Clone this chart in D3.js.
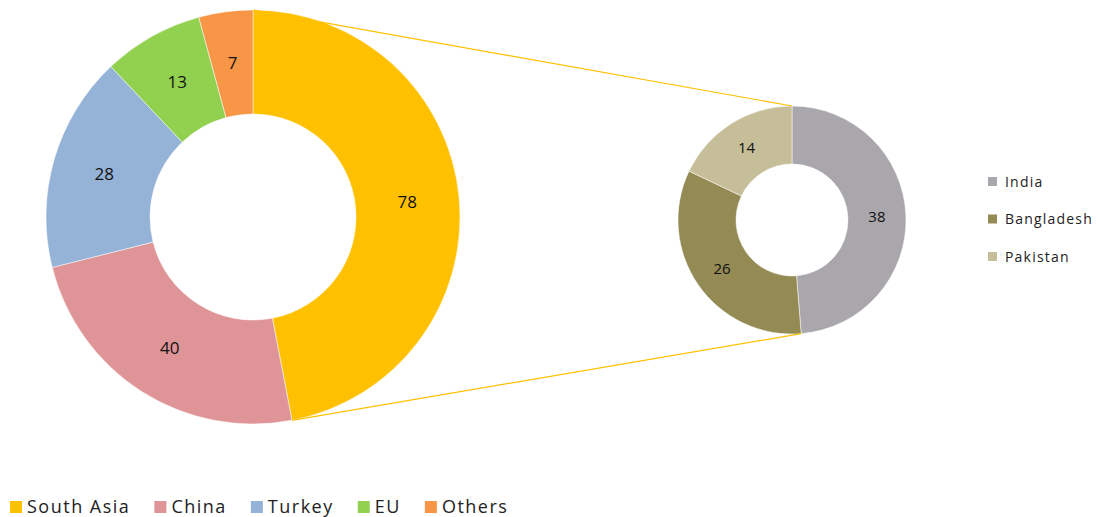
<!DOCTYPE html>
<html>
<head>
<meta charset="utf-8">
<script src="https://cdn.jsdelivr.net/npm/d3@7"></script>
<style>
  body { margin: 0; background: #fff; }
  text { font-family: "Open Sans", sans-serif; }
</style>
</head>
<body>
<svg id="chart" width="1102" height="517"></svg>
<script>
const REGIONS = ["South Asia", "China", "Turkey", "EU", "Others"];
const REGION_VALUES = [78, 40, 28, 13, 7];
const REGION_COLOURS = ["#FFC000", "#DF9598", "#95B3D7", "#92D050", "#F79646"];

const COUNTRIES = ["India", "Bangladesh", "Pakistan"];
const COUNTRY_VALUES = [38, 26, 14];
const COUNTRY_COLOURS = ["#A9A7AB", "#948A54", "#C6BE98"];

const BIG = { cx: 253, cy: 217, outer: 207, inner: 103 };
const SMALL = { cx: 792, cy: 220, outer: 114, inner: 56 };

const svg = d3.select("#chart");

function drawDonut(names, values, colours, geo, fontSize) {
    let pie = d3.pie().sort(null).value(d => d.value);
    let data = pie(names.map((n, i) => ({ name: n, value: values[i], colour: colours[i] })));
    let arc = d3.arc().innerRadius(geo.inner).outerRadius(geo.outer);
    let g = svg.append("g").attr("transform", `translate(${geo.cx},${geo.cy})`);

    g.selectAll("path")
        .data(data)
        .join("path")
        .attr("d", arc)
        .attr("fill", d => d.data.colour)
        .attr("stroke", "#fff")
        .attr("stroke-width", 0.5);

    g.selectAll("text")
        .data(data)
        .join("text")
        .attr("transform", d => `translate(${arc.centroid(d)})`)
        .attr("text-anchor", "middle")
        .attr("dy", "0.35em")
        .attr("font-size", fontSize)
        .attr("fill", "#111")
        .text(d => d.data.value);

    return data;
}

const bigData = drawDonut(REGIONS, REGION_VALUES, REGION_COLOURS, BIG, 17);
const smallData = drawDonut(COUNTRIES, COUNTRY_VALUES, COUNTRY_COLOURS, SMALL, 15);

// connector lines from the South Asia slice to the breakdown donut
function edgePoint(geo, angle) {
    return [geo.cx + geo.outer * Math.sin(angle), geo.cy - geo.outer * Math.cos(angle)];
}
let sa = bigData[0];
let firstCountry = smallData[0];
let links = [
    [edgePoint(BIG, sa.startAngle), edgePoint(SMALL, firstCountry.startAngle)],
    [edgePoint(BIG, sa.endAngle), edgePoint(SMALL, firstCountry.endAngle)]
];
svg.selectAll("line.link")
    .data(links)
    .join("line")
    .attr("class", "link")
    .attr("x1", d => d[0][0])
    .attr("y1", d => d[0][1])
    .attr("x2", d => d[1][0])
    .attr("y2", d => d[1][1])
    .attr("stroke", "#FFC000")
    .attr("stroke-width", 1.2);

// right legend
let rightLegend = svg.append("g").attr("transform", "translate(988,182)");
COUNTRIES.forEach((c, i) => {
    let row = rightLegend.append("g").attr("transform", `translate(0,${i * 37.5})`);
    row.append("rect").attr("x", 0).attr("y", -5).attr("width", 9).attr("height", 9)
        .attr("fill", COUNTRY_COLOURS[i]);
    row.append("text").attr("x", 17).attr("dy", "0.35em")
        .attr("font-size", 14).attr("letter-spacing", 1.2)
        .attr("fill", "#222").text(c);
});

// bottom legend
let bottomLegend = svg.append("g").attr("transform", "translate(10,507)");
let offset = 0;
REGIONS.forEach((r, i) => {
    let row = bottomLegend.append("g").attr("transform", `translate(${offset},0)`);
    row.append("rect").attr("x", 0).attr("y", -6).attr("width", 12).attr("height", 12)
        .attr("fill", REGION_COLOURS[i]);
    let t = row.append("text").attr("x", 17).attr("dy", "0.35em")
        .attr("font-size", 18).attr("letter-spacing", 1.5)
        .attr("fill", "#222").text(r);
    offset += 17 + t.node().getComputedTextLength() + 24;
});
</script>
</body>
</html>
